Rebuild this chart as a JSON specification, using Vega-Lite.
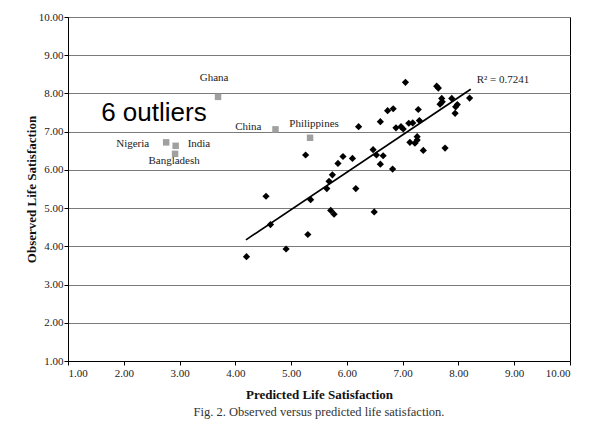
{
  "$schema": "https://vega.github.io/schema/vega-lite/v6.json",
  "autosize": {"type": "none"},
  "width": 502,
  "height": 344,
  "padding": {"left": 68, "top": 17, "right": 19, "bottom": 80},
  "background": "white",
  "title": {
    "text": "Fig. 2. Observed versus predicted life satisfaction.",
    "orient": "bottom",
    "anchor": "middle",
    "font": "Liberation Serif",
    "fontSize": 12.5,
    "fontWeight": "normal",
    "color": "#333333",
    "offset": 5
  },
  "config": {
    "view": {"stroke": "black", "strokeWidth": 1},
    "axis": {
      "labelFont": "Liberation Serif",
      "labelFontSize": 11,
      "labelColor": "#222222",
      "titleFont": "Liberation Serif",
      "titleFontSize": 13,
      "titleFontWeight": "bold",
      "titleColor": "#111111",
      "domainColor": "black",
      "tickColor": "black",
      "tickSize": 4,
      "gridColor": "#7a7a7a",
      "gridWidth": 1.2
    }
  },
  "datasets": {
    "points": [
      {"pred": 7.05, "obs": 8.29}, {"pred": 7.61, "obs": 8.19}, {"pred": 7.64, "obs": 8.14},
      {"pred": 7.70, "obs": 7.87}, {"pred": 7.71, "obs": 7.78}, {"pred": 7.88, "obs": 7.87},
      {"pred": 8.20, "obs": 7.88}, {"pred": 7.67, "obs": 7.72}, {"pred": 7.98, "obs": 7.71},
      {"pred": 7.95, "obs": 7.65}, {"pred": 7.94, "obs": 7.48}, {"pred": 7.28, "obs": 7.58},
      {"pred": 6.73, "obs": 7.55}, {"pred": 6.83, "obs": 7.60}, {"pred": 6.60, "obs": 7.26},
      {"pred": 6.21, "obs": 7.13}, {"pred": 6.88, "obs": 7.10}, {"pred": 6.97, "obs": 7.13},
      {"pred": 7.01, "obs": 7.07}, {"pred": 7.11, "obs": 7.22}, {"pred": 7.18, "obs": 7.23},
      {"pred": 7.30, "obs": 7.29}, {"pred": 7.26, "obs": 6.87}, {"pred": 7.26, "obs": 6.78},
      {"pred": 7.22, "obs": 6.70}, {"pred": 7.13, "obs": 6.72}, {"pred": 7.37, "obs": 6.51},
      {"pred": 7.76, "obs": 6.57}, {"pred": 6.47, "obs": 6.53}, {"pred": 6.65, "obs": 6.37},
      {"pred": 6.53, "obs": 6.39}, {"pred": 6.60, "obs": 6.15}, {"pred": 6.82, "obs": 6.02},
      {"pred": 5.26, "obs": 6.39}, {"pred": 5.93, "obs": 6.35}, {"pred": 5.84, "obs": 6.17},
      {"pred": 6.10, "obs": 6.30}, {"pred": 5.74, "obs": 5.87}, {"pred": 5.68, "obs": 5.70},
      {"pred": 5.64, "obs": 5.51}, {"pred": 6.16, "obs": 5.51}, {"pred": 5.35, "obs": 5.22},
      {"pred": 4.55, "obs": 5.31}, {"pred": 4.63, "obs": 4.57}, {"pred": 5.71, "obs": 4.94},
      {"pred": 5.77, "obs": 4.84}, {"pred": 6.49, "obs": 4.90}, {"pred": 5.30, "obs": 4.31},
      {"pred": 4.91, "obs": 3.93}, {"pred": 4.20, "obs": 3.73}
    ],
    "outliers": [
      {"country": "Ghana", "pred": 3.69, "obs": 7.91},
      {"country": "China", "pred": 4.72, "obs": 7.06},
      {"country": "Philippines", "pred": 5.34, "obs": 6.84},
      {"country": "Nigeria", "pred": 2.76, "obs": 6.72},
      {"country": "India", "pred": 2.93, "obs": 6.63},
      {"country": "Bangladesh", "pred": 2.92, "obs": 6.42}
    ],
    "fit": [
      {"pred": 4.19, "obs": 4.17},
      {"pred": 8.22, "obs": 8.11}
    ],
    "notes": [
      {"pred": 2.54, "obs": 7.29, "label": "6 outliers"}
    ],
    "r2": [
      {"pred": 8.22, "obs": 8.11, "label": "R² = 0.7241"}
    ]
  },
  "encoding": {
    "x": {
      "field": "pred",
      "type": "quantitative",
      "scale": {"domain": [1, 10], "nice": false, "zero": false},
      "axis": {
        "values": [1, 2, 3, 4, 5, 6, 7, 8, 9, 10],
        "format": ".2f",
        "title": "Predicted Life Satisfaction",
        "grid": false,
        "labelPadding": 2,
        "titlePadding": 10
      }
    },
    "y": {
      "field": "obs",
      "type": "quantitative",
      "scale": {"domain": [1, 10], "nice": false, "zero": false},
      "axis": {
        "values": [1, 2, 3, 4, 5, 6, 7, 8, 9, 10],
        "format": ".2f",
        "title": "Observed Life Satisfaction",
        "grid": true,
        "labelPadding": 1,
        "titlePadding": 0
      }
    }
  },
  "layer": [
    {
      "data": {"name": "fit"},
      "mark": {"type": "line", "color": "black", "strokeWidth": 1.7}
    },
    {
      "data": {"name": "points"},
      "mark": {"type": "point", "shape": "diamond", "filled": true, "color": "black", "size": 52, "opacity": 1}
    },
    {
      "data": {"name": "outliers"},
      "mark": {"type": "point", "shape": "square", "filled": true, "color": "#a0a0a0", "size": 42, "opacity": 1}
    },
    {
      "data": {"name": "outliers"},
      "transform": [{"filter": "datum.country === 'Ghana'"}],
      "mark": {"type": "text", "font": "Liberation Serif", "fontSize": 11, "color": "#222222", "align": "center", "baseline": "alphabetic", "dx": -4, "dy": -16},
      "encoding": {"text": {"field": "country"}}
    },
    {
      "data": {"name": "outliers"},
      "transform": [{"filter": "datum.country === 'Philippines'"}],
      "mark": {"type": "text", "font": "Liberation Serif", "fontSize": 11, "color": "#222222", "align": "center", "baseline": "alphabetic", "dx": 4, "dy": -11},
      "encoding": {"text": {"field": "country"}}
    },
    {
      "data": {"name": "outliers"},
      "transform": [{"filter": "datum.country === 'China'"}],
      "mark": {"type": "text", "font": "Liberation Serif", "fontSize": 11, "color": "#222222", "align": "right", "baseline": "alphabetic", "dx": -14, "dy": 1},
      "encoding": {"text": {"field": "country"}}
    },
    {
      "data": {"name": "outliers"},
      "transform": [{"filter": "datum.country === 'Nigeria'"}],
      "mark": {"type": "text", "font": "Liberation Serif", "fontSize": 11, "color": "#222222", "align": "right", "baseline": "alphabetic", "dx": -17, "dy": 5},
      "encoding": {"text": {"field": "country"}}
    },
    {
      "data": {"name": "outliers"},
      "transform": [{"filter": "datum.country === 'India'"}],
      "mark": {"type": "text", "font": "Liberation Serif", "fontSize": 11, "color": "#222222", "align": "left", "baseline": "alphabetic", "dx": 12, "dy": 1},
      "encoding": {"text": {"field": "country"}}
    },
    {
      "data": {"name": "outliers"},
      "transform": [{"filter": "datum.country === 'Bangladesh'"}],
      "mark": {"type": "text", "font": "Liberation Serif", "fontSize": 11, "color": "#222222", "align": "center", "baseline": "alphabetic", "dx": -1, "dy": 10},
      "encoding": {"text": {"field": "country"}}
    },
    {
      "data": {"name": "notes"},
      "mark": {"type": "text", "font": "Liberation Sans", "fontSize": 26, "color": "black", "align": "center", "baseline": "alphabetic"},
      "encoding": {"text": {"field": "label"}}
    },
    {
      "data": {"name": "r2"},
      "mark": {"type": "text", "font": "Liberation Serif", "fontSize": 11, "color": "#222222", "align": "left", "baseline": "alphabetic", "dx": 6, "dy": -6},
      "encoding": {"text": {"field": "label"}}
    }
  ]
}
